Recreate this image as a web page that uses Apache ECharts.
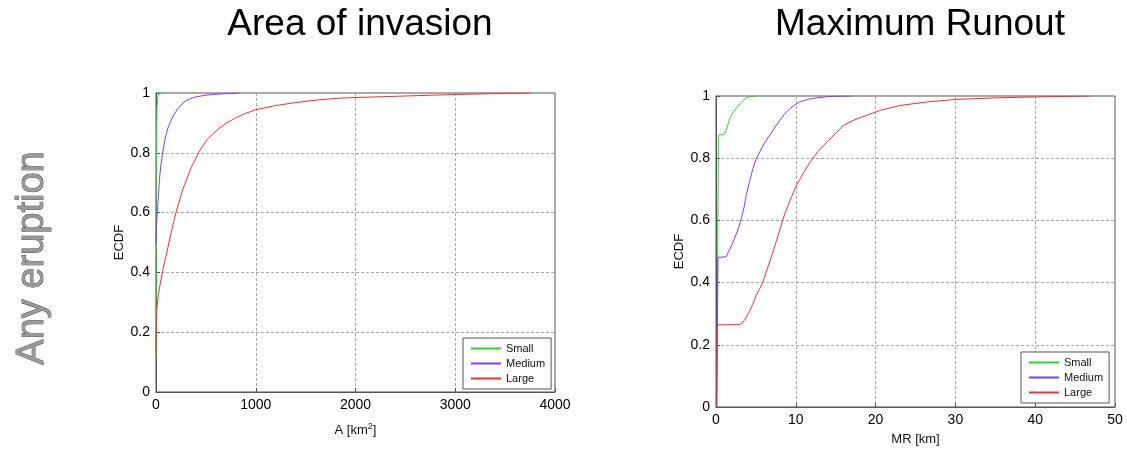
<!DOCTYPE html>
<html><head><meta charset="utf-8">
<script src="https://cdn.jsdelivr.net/npm/echarts@6/dist/echarts.min.js"></script>
<style>html,body{margin:0;padding:0;background:#fff}#c{width:1127px;height:451px}</style>
</head><body><div id="c"></div>
<script>
// Area of invasion (km^2) ECDF
const areaSmallX = [0, 2, 5, 10, 20, 40, 80];
const areaSmallY = [0.12, 0.6, 0.85, 0.95, 0.99, 1.0, 1.0];
const areaMediumX = [0, 5, 17, 34, 50, 67, 90, 117, 150, 185, 220, 260, 300, 335, 400, 503, 650, 839];
const areaMediumY = [0.5, 0.56, 0.62, 0.71, 0.76, 0.80, 0.845, 0.88, 0.908, 0.93, 0.948, 0.963, 0.974, 0.98, 0.987, 0.993, 0.997, 1.0];
const areaLargeX = [0, 7, 25, 50, 75, 100, 150, 200, 268, 352, 436, 520, 620, 710, 805, 900, 1000, 1200, 1400, 1600, 1845, 2200, 2500, 3000, 3400, 3750];
const areaLargeY = [0.13, 0.274, 0.33, 0.375, 0.418, 0.454, 0.53, 0.60, 0.677, 0.75, 0.806, 0.847, 0.879, 0.9, 0.918, 0.932, 0.944, 0.958, 0.968, 0.976, 0.983, 0.987, 0.99, 0.995, 0.998, 1.0];
// Maximum runout (km) ECDF
const mrSmallX = [0.1, 0.3, 1.0, 1.3, 1.7, 2.1, 2.5, 3.0, 3.4, 3.8, 4.2, 5.0];
const mrSmallY = [0, 0.874, 0.876, 0.89, 0.927, 0.945, 0.959, 0.975, 0.986, 0.994, 0.998, 1.0];
const mrMediumX = [0.1, 0.25, 1.26, 1.68, 2.1, 2.5, 2.85, 3.16, 3.5, 3.79, 4.2, 4.63, 5.0, 5.47, 6.1, 6.74, 7.4, 8.0, 8.6, 9.26, 9.9, 10.5, 11.5, 12.6, 13.6, 14.7, 17.05];
const mrMediumY = [0, 0.481, 0.483, 0.505, 0.527, 0.553, 0.578, 0.606, 0.64, 0.681, 0.725, 0.767, 0.795, 0.82, 0.85, 0.874, 0.9, 0.922, 0.942, 0.959, 0.972, 0.981, 0.989, 0.994, 0.997, 0.999, 1.0];
const mrLargeX = [0.05, 0.15, 2.95, 3.3, 3.58, 4.2, 4.6, 5.05, 5.5, 5.9, 6.5, 7.16, 7.8, 8.42, 9.2, 10.1, 11.0, 11.8, 12.8, 13.9, 15.0, 16.0, 17.4, 18.9, 20.6, 23.2, 26.5, 30.05, 35.0, 39.9, 46.8];
const mrLargeY = [0, 0.264, 0.265, 0.27, 0.28, 0.307, 0.33, 0.36, 0.381, 0.403, 0.45, 0.50, 0.553, 0.606, 0.66, 0.713, 0.755, 0.788, 0.822, 0.852, 0.88, 0.906, 0.924, 0.938, 0.954, 0.97, 0.981, 0.989, 0.994, 0.997, 1.0];

const yTicks = [0, 0.2, 0.4, 0.6, 0.8, 1];
const areaTicks = [0, 1000, 2000, 3000, 4000];
const mrTicks = [0, 10, 20, 30, 40, 50];

const zip = (xs, ys) => xs.map((x, i) => [x, ys[i]]);
const FONT = 'Liberation Sans, Arial, sans-serif';
const C_SMALL = '#22dd22', C_MED = '#7a3cff', C_LARGE = '#ff2a2a';

function xAx(gi, ticks, name, gap) {
  return {
    type: 'value', gridIndex: gi, min: ticks[0], max: ticks[ticks.length - 1],
    interval: ticks[1] - ticks[0], name: name, nameLocation: 'middle', nameGap: gap,
    nameTextStyle: { fontFamily: FONT, fontSize: 13, color: '#111',
      rich: { sup: { fontFamily: FONT, fontSize: 9, color: '#111', verticalAlign: 'bottom', padding: [0, 0, 8, 0] } } },
    axisLine: { show: true, lineStyle: { color: '#555' } },
    axisTick: { show: true, inside: true, length: 4, lineStyle: { color: '#555' } },
    axisLabel: { fontFamily: FONT, fontSize: 14, color: '#000', margin: 6, formatter: v => String(v) },
    splitLine: { show: true, lineStyle: { color: '#aaa', type: [3, 2] } }
  };
}
function yAx(gi) {
  return {
    type: 'value', gridIndex: gi, min: yTicks[0], max: yTicks[yTicks.length - 1], interval: yTicks[1] - yTicks[0],
    name: 'ECDF', nameLocation: 'middle', nameGap: 30,
    nameTextStyle: { fontFamily: FONT, fontSize: 13, color: '#111' },
    axisLine: { show: true, lineStyle: { color: '#555' } },
    axisTick: { show: true, inside: true, length: 4, lineStyle: { color: '#555' } },
    axisLabel: { fontFamily: FONT, fontSize: 14, color: '#000', margin: 6,
      formatter: v => (v === 0 || v === 1) ? String(v) : v.toFixed(1) },
    splitLine: { show: true, lineStyle: { color: '#aaa', type: [3, 2] } }
  };
}
function ser(name, xi, data, color) {
  return { type: 'line', name: name, xAxisIndex: xi, yAxisIndex: xi, data: data,
    showSymbol: false, symbol: 'none', smooth: false,
    lineStyle: { width: 1, color: color }, itemStyle: { color: color }, animation: false };
}
function legend(left, top) {
  return {
    left: left, top: top, orient: 'vertical', icon: 'rect', itemWidth: 30, itemHeight: 2, itemGap: 4,
    backgroundColor: '#fff', borderColor: '#555', borderWidth: 1, padding: [5, 6, 5, 8],
    textStyle: { fontFamily: FONT, fontSize: 11, color: '#111' },
    data: [
      { name: 'Small', itemStyle: { color: C_SMALL } },
      { name: 'Medium', itemStyle: { color: C_MED } },
      { name: 'Large', itemStyle: { color: C_LARGE } }
    ]
  };
}

const chart = echarts.init(document.getElementById('c'), null, { renderer: 'canvas' });
chart.setOption({
  backgroundColor: '#fff',
  animation: false,
  title: [
    { text: 'Area of invasion', left: 355, top: 1, textAlign: 'center',
      textStyle: { fontFamily: FONT, fontSize: 37, fontWeight: 'normal', color: '#000' } },
    { text: 'Maximum Runout', left: 915, top: 1, textAlign: 'center',
      textStyle: { fontFamily: FONT, fontSize: 37, fontWeight: 'normal', color: '#000' } }
  ],
  grid: [
    { left: 156, right: 572, top: 93, bottom: 59, show: true, borderColor: '#555', borderWidth: 1 },
    { left: 716, right: 12, top: 96, bottom: 43, show: true, borderColor: '#555', borderWidth: 1 }
  ],
  xAxis: [xAx(0, areaTicks, 'A [km{sup|2}]', 30), xAx(1, mrTicks, 'MR [km]', 26)],
  yAxis: [yAx(0), yAx(1)],
  legend: [legend(463, 338), legend(1021, 352)],
  series: [
    ser('Small', 0, zip(areaSmallX, areaSmallY), C_SMALL),
    ser('Medium', 0, zip(areaMediumX, areaMediumY), C_MED),
    ser('Large', 0, zip(areaLargeX, areaLargeY), C_LARGE),
    ser('Small', 1, zip(mrSmallX, mrSmallY), C_SMALL),
    ser('Medium', 1, zip(mrMediumX, mrMediumY), C_MED),
    ser('Large', 1, zip(mrLargeX, mrLargeY), C_LARGE)
  ],
  graphic: [{
    type: 'text', x: 33, y: 258, rotation: Math.PI / 2,
    style: { text: 'Any eruption', fontFamily: FONT, fontSize: 38,
      fill: '#9a9a9a', stroke: '#333', lineWidth: 0.8,
      align: 'center', verticalAlign: 'middle' }
  }]
});
</script></body></html>
